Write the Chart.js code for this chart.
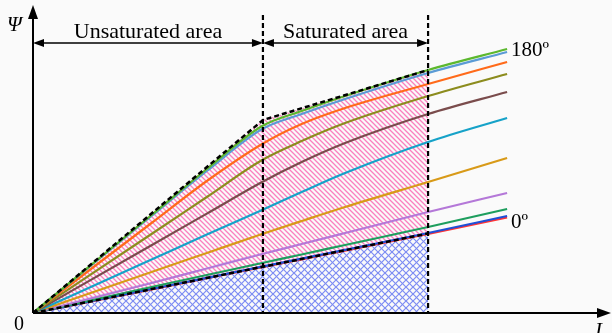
<!DOCTYPE html>
<html>
<head>
<meta charset="utf-8">
<script src="https://cdn.jsdelivr.net/npm/chart.js@4.4.1/dist/chart.umd.min.js"></script>
<style>
  html, body { margin: 0; padding: 0; background: #fafafa; }
  canvas { display: block; }
</style>
</head>
<body>
<canvas id="fluxChart" width="612" height="333"></canvas>
<script>
// ── Data (flux linkage Ψ vs current I, arbitrary units) ──
const currentI = [0, 3, 4.4, 5.8, 6.8, 7.9, 10, 12]

const psi180 = [0, 9.8, 14.4, 18.7, 20.2, 21.7, 24.3, 26.4]
const psi162 = [0, 9.7, 14.2, 18.4, 19.9, 21.4, 24.0, 26.1]
const psi144 = [0, 9.0, 13.2, 16.9, 18.9, 20.5, 22.9, 25.1]
const psi126 = [0, 7.9, 11.6, 15.3, 17.2, 19.0, 21.7, 23.9]
const psi108 = [0, 6.78, 9.94, 13.1, 15.1, 17.0, 19.9, 22.1]
const psi90  = [0, 5.35, 7.85, 10.3, 12.1, 14.0, 17.1, 19.5]
const psi72  = [0, 4.1, 6.0, 7.9, 9.2, 10.6, 13.1, 15.5]
const psi54  = [0, 3.0, 4.45, 5.9, 6.9, 8.0, 10.1, 12.0]
const psi36  = [0, 2.6, 3.8, 5.0, 5.85, 6.8, 8.6, 10.4]
const psi18  = [0, 2.4, 3.52, 4.64, 5.44, 6.32, 8.0, 9.7]
const psi0   = [0, 2.37, 3.48, 4.58, 5.37, 6.24, 7.9, 9.55]

const curveSeries = [psi180, psi162, psi144, psi126, psi108, psi90, psi72, psi54, psi36, psi18, psi0]
const curveColors = ['#5cb82e', '#5b9bd5', '#ff6a1a', '#8c8c1e', '#7a4c4c', '#16a2c8',
                     '#d89a18', '#b478d8', '#1e9e5e', '#1f4fd6', '#ff3434']

// envelopes of the shaded regions
const upperEnvI   = [0, 5.82, 10]
const upperEnvPsi = [0, 19.3, 24.3]
const lowerEnvI   = [0, 10]
const lowerEnvPsi = [0, 7.95]

// region boundaries on the current axis
const regionBounds = [5.82, 10]
const regionLabels = ['Unsaturated area', 'Saturated area']

const toPoints = (xs, ys) => xs.map((v, i) => ({ x: v, y: ys[i] }))

// ── Hatch patterns ──
function makePattern(size, color, width, cross) {
  const c = document.createElement('canvas')
  c.width = c.height = size
  const g = c.getContext('2d')
  g.strokeStyle = color
  g.lineWidth = width
  const diag = (flip) => {
    g.beginPath()
    for (const o of [-size, 0, size]) {
      if (!flip) { g.moveTo(o - 1, -1); g.lineTo(o + size + 1, size + 1) }
      else       { g.moveTo(o - 1, size + 1); g.lineTo(o + size + 1, -1) }
    }
    g.stroke()
  }
  diag(false)
  if (cross) diag(true)
  return g.createPattern(c, 'repeat')
}

const pinkHatch = makePattern(5, '#fb7fbe', 1.3, false)
const blueHatch = makePattern(7, '#7d8cf3', 1.2, true)

// ── Datasets ──
const datasets = [
  {
    data: toPoints(upperEnvI, upperEnvPsi),
    borderColor: '#000', borderWidth: 2.5, borderDash: [5, 3],
    backgroundColor: pinkHatch, fill: '+1', tension: 0,
  },
  {
    data: toPoints(lowerEnvI, lowerEnvPsi),
    borderColor: '#000', borderWidth: 2.5, borderDash: [5, 3],
    backgroundColor: blueHatch, fill: 'origin', tension: 0,
  },
  ...curveSeries.map((s, i) => ({
    data: toPoints(currentI, s),
    borderColor: curveColors[i], borderWidth: 2.2,
    fill: false, cubicInterpolationMode: 'monotone',
  })),
]

// ── Overlay: axes, arrows, dashed boundaries, text ──
function arrowHead(ctx, tx, ty, dx, dy, len, half) {
  ctx.beginPath()
  ctx.moveTo(tx, ty)
  ctx.lineTo(tx - dx * len - dy * half, ty - dy * len + dx * half)
  ctx.lineTo(tx - dx * len + dy * half, ty - dy * len - dx * half)
  ctx.closePath()
  ctx.fill()
}

function seg(ctx, x1, y1, x2, y2) {
  ctx.beginPath(); ctx.moveTo(x1, y1); ctx.lineTo(x2, y2); ctx.stroke()
}

const overlay = {
  id: 'overlay',
  afterDatasetsDraw(chart) {
    const { ctx, scales: { x, y } } = chart
    const x0 = x.getPixelForValue(0)
    const y0 = y.getPixelForValue(0)
    ctx.save()
    ctx.strokeStyle = '#000'
    ctx.fillStyle = '#000'

    // vertical boundaries
    ctx.lineWidth = 2.2
    ctx.setLineDash([5, 3])
    regionBounds.forEach(b => {
      const px = x.getPixelForValue(b)
      seg(ctx, px, y.getPixelForValue(29.8), px, y0)
    })
    ctx.setLineDash([])

    // axes
    ctx.lineWidth = 2
    seg(ctx, x0, y0, x.right - 10, y0)
    seg(ctx, x0, y0, x0, y.top + 10)
    arrowHead(ctx, x.right, y0, 1, 0, 14, 5)
    arrowHead(ctx, x0, y.top, 0, -1, 14, 5)

    // dimension arrows + labels
    const ay = y.getPixelForValue(27)
    const edges = [0, ...regionBounds].map(v => x.getPixelForValue(v))
    ctx.lineWidth = 1.4
    ctx.font = '22px "Liberation Serif"'
    ctx.textAlign = 'center'
    ctx.textBaseline = 'alphabetic'
    for (let i = 0; i < regionLabels.length; i++) {
      const a = edges[i], b = edges[i + 1]
      seg(ctx, a + 4, ay, b - 4, ay)
      arrowHead(ctx, a, ay, -1, 0, 11, 4)
      arrowHead(ctx, b, ay, 1, 0, 11, 4)
      ctx.fillText(regionLabels[i], (a + b) / 2, ay - 5)
    }

    // curve end labels
    const lastI = currentI[currentI.length - 1]
    const ex = x.getPixelForValue(lastI) + 4
    ctx.font = '21px "Liberation Serif"'
    ctx.textAlign = 'left'
    ctx.fillText('180º', ex, y.getPixelForValue(psi180[psi180.length - 1]) + 7)
    ctx.fillText('0º', ex, y.getPixelForValue(psi0[psi0.length - 1]) + 10)

    // axis names
    ctx.font = 'italic 21px "Liberation Serif"'
    ctx.fillText('Ψ', 7, 31)
    ctx.fillText('I', 595, 337)
    ctx.font = '20px "Liberation Serif"'
    ctx.fillText('0', 14, 330)
    ctx.restore()
  },
}

new Chart(document.getElementById('fluxChart'), {
  type: 'line',
  data: { datasets },
  options: {
    responsive: false,
    animation: false,
    layout: { padding: { left: 33, top: 5, right: 1, bottom: 20 } },
    elements: { point: { radius: 0 } },
    scales: {
      x: { type: 'linear', min: 0, max: 14.63, display: false },
      y: { type: 'linear', min: 0, max: 30.8, display: false },
    },
    plugins: {
      legend: { display: false },
      tooltip: { enabled: false },
      filler: { drawTime: 'beforeDatasetsDraw' },
    },
  },
  plugins: [overlay],
})
</script>
</body>
</html>
